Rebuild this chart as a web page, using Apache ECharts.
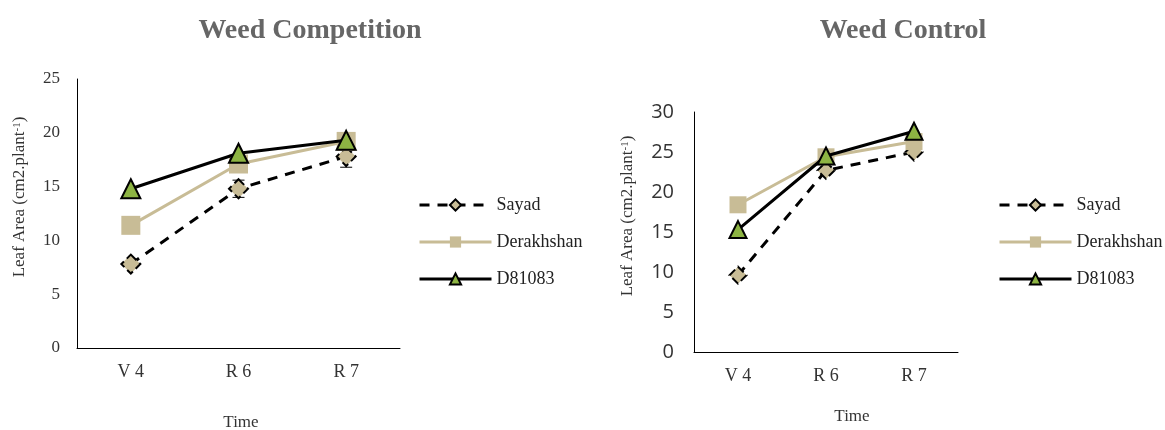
<!DOCTYPE html>
<html>
<head>
<meta charset="utf-8">
<script src="https://cdn.jsdelivr.net/npm/echarts@6/dist/echarts.min.js"></script>
<style>html,body{margin:0;padding:0;background:#fff}#c{width:1165px;height:430px}</style>
</head>
<body>
<div id="c"></div>
<script>
const categories = ['V 4', 'R 6', 'R 7'];
const seriesNames = ['Sayad', 'Derakhshan', 'D81083'];
const compSayad = [7.8, 14.8, 17.8];
const compSayadErr = [0, 0.8, 1.0];
const compDerakhshan = [11.4, 17.1, 19.2];
const compD81083 = [14.8, 18.1, 19.3];
const ctrlSayad = [9.6, 22.7, 25.0];
const ctrlDerakhshan = [18.4, 24.4, 26.3];
const ctrlD81083 = [15.3, 24.5, 27.6];
const leftTicks = { min: 0, max: 25, interval: 5 };
const rightTicks = { min: 0, max: 30, interval: 5 };

const serif = '"Liberation Serif", "Times New Roman", serif';
const tan = '#C8BC96';
const green = '#8DB443';

function makeSeries(idx, sData, dData, tData, sym) {
  return [
    { name: seriesNames[0], type: 'line', xAxisIndex: idx, yAxisIndex: idx, data: sData, z: 3,
      symbol: 'diamond', symbolSize: sym,
      lineStyle: { color: '#000', width: 3, type: [10, 8] },
      itemStyle: { color: tan, borderColor: '#000', borderWidth: 2, borderType: 'dashed' } },
    { name: seriesNames[1], type: 'line', xAxisIndex: idx, yAxisIndex: idx, data: dData, z: 4,
      symbol: 'rect', symbolSize: sym,
      lineStyle: { color: tan, width: 3 },
      itemStyle: { color: tan, borderColor: tan, borderWidth: 0 } },
    { name: seriesNames[2], type: 'line', xAxisIndex: idx, yAxisIndex: idx, data: tData, z: 5,
      symbol: 'triangle', symbolSize: sym,
      lineStyle: { color: '#000', width: 3 },
      itemStyle: { color: green, borderColor: '#000', borderWidth: 2 } }
  ];
}

const errData = compSayad.map((v, i) => [i, v - compSayadErr[i], v + compSayadErr[i]]);

function axisPair(idx, ticks, labelFont, labelSize, yMargin) {
  return {
    x: { type: 'category', gridIndex: idx, data: categories, boundaryGap: true,
      axisLine: { lineStyle: { color: '#000', width: 1 } }, axisTick: { show: false },
      axisLabel: { fontFamily: serif, fontSize: 18, color: '#333', margin: 15 } },
    y: { type: 'value', gridIndex: idx, min: ticks.min, max: ticks.max, interval: ticks.interval,
      axisLine: { show: true, lineStyle: { color: '#000', width: 1 } }, axisTick: { show: false },
      splitLine: { show: false },
      axisLabel: { fontFamily: labelFont, fontSize: labelSize, color: '#333', margin: yMargin } }
  };
}
const a0 = axisPair(0, leftTicks, serif, 17, 17);
const a1 = axisPair(1, rightTicks, '"Open Sans", "DejaVu Sans", sans-serif', 20, 20);

const legendBase = {
  orient: 'vertical', itemWidth: 72, itemHeight: 14, itemGap: 19, itemTextGap: 6,
  lineStyle: { width: 3 },
  textStyle: { fontFamily: serif, fontSize: 18, color: '#222' },
  data: seriesNames
};

function yName(x, y) {
  return { type: 'text', x: x, y: y, rotation: Math.PI / 2,
    style: { text: 'Leaf Area (cm2.plant{sup|-1})', font: '17px ' + serif, fill: '#333',
      align: 'center', verticalAlign: 'middle',
      rich: { sup: { fontSize: 11, fontFamily: serif, fill: '#333', verticalAlign: 'top', padding: [0, 0, 6, 0] } } } };
}

const option = {
  animation: false,
  backgroundColor: '#fff',
  title: [
    { text: 'Weed Competition', left: 305, top: 12, textAlign: 'center',
      textStyle: { fontFamily: serif, fontWeight: 'bold', fontSize: 28, color: '#666' } },
    { text: 'Weed Control', left: 898, top: 12, textAlign: 'center',
      textStyle: { fontFamily: serif, fontWeight: 'bold', fontSize: 28, color: '#666' } }
  ],
  grid: [
    { left: 77, top: 79, width: 323, height: 269 },
    { left: 694, top: 112, width: 264, height: 240 }
  ],
  xAxis: [a0.x, a1.x],
  yAxis: [a0.y, a1.y],
  legend: [
    Object.assign({}, legendBase, { left: 413, top: 191 }),
    Object.assign({}, legendBase, { left: 993, top: 191 })
  ],
  graphic: [
    yName(20, 197),
    yName(628, 216),
    { type: 'text', x: 241, y: 423, style: { text: 'Time', font: '17px ' + serif, fill: '#333', align: 'center', verticalAlign: 'middle' } },
    { type: 'text', x: 852, y: 417, style: { text: 'Time', font: '17px ' + serif, fill: '#333', align: 'center', verticalAlign: 'middle' } }
  ],
  series: [
    { type: 'custom', xAxisIndex: 0, yAxisIndex: 0, data: errData, z: 2, silent: true,
      renderItem: function (params, api) {
        const lo = api.coord([api.value(0), api.value(1)]);
        const hi = api.coord([api.value(0), api.value(2)]);
        if (Math.abs(hi[1] - lo[1]) < 0.5) return null;
        const w = 6;
        const st = { stroke: '#000', lineWidth: 1 };
        return { type: 'group', children: [
          { type: 'line', shape: { x1: lo[0], y1: lo[1], x2: hi[0], y2: hi[1] }, style: st },
          { type: 'line', shape: { x1: lo[0] - w, y1: lo[1], x2: lo[0] + w, y2: lo[1] }, style: st },
          { type: 'line', shape: { x1: hi[0] - w, y1: hi[1], x2: hi[0] + w, y2: hi[1] }, style: st }
        ] };
      } }
  ].concat(makeSeries(0, compSayad, compDerakhshan, compD81083, 19))
   .concat(makeSeries(1, ctrlSayad, ctrlDerakhshan, ctrlD81083, 17))
};

const chart = echarts.init(document.getElementById('c'), null, { renderer: 'canvas' });
chart.setOption(option);
</script>
</body>
</html>
